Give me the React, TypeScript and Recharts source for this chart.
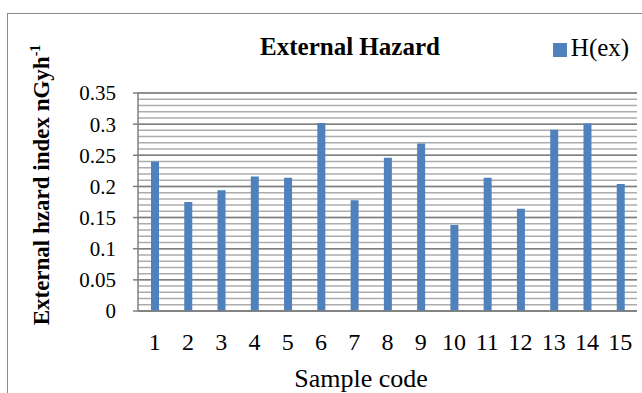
import React from "react"
import { BarChart, Bar, XAxis, YAxis, CartesianGrid, Legend } from "recharts"

// sample codes along the x axis
const sampleCodes = ["1", "2", "3", "4", "5", "6", "7", "8", "9", "10", "11", "12", "13", "14", "15"]
// H(ex) values
const hexValues = [0.24, 0.175, 0.194, 0.216, 0.214, 0.302, 0.178, 0.246, 0.269, 0.138, 0.214, 0.164, 0.291, 0.301, 0.204]
const majorTicks = [0, 0.05, 0.1, 0.15, 0.2, 0.25, 0.3, 0.35]
// minor gridlines every 0.01
const minorTicks = Array.from({ length: 36 }, (_, i) => i / 100)

const data = sampleCodes.map((code, i) => ({ code, hex: hexValues[i] }))

const FONT = "'Liberation Serif', 'Times New Roman', serif"

export default function App() {
  return (
    <div style={{ position: "absolute", left: 0, top: 0, width: 642, height: 393, overflow: "hidden", background: "#fff" }}>
      <div style={{ position: "absolute", left: 7, top: 13, width: 700, height: 500, border: "1px solid #8a8a8a" }} />
      <BarChart
        width={642}
        height={393}
        data={data}
        margin={{ top: 93, right: 5, bottom: 32, left: 0 }}
        style={{ fontFamily: FONT }}
      >
        <CartesianGrid vertical={false} horizontalValues={minorTicks} stroke="#acacac" strokeWidth={1.5} />
        <CartesianGrid vertical={false} stroke="#7f7f7f" strokeWidth={1.5} />
        <XAxis
          dataKey="code"
          height={50}
          tickLine={false}
          tickMargin={16}
          axisLine={{ stroke: "#7f7f7f", strokeWidth: 1.5 }}
          tick={{ fill: "#000", fontSize: 24, fontFamily: FONT }}
          interval={0}
        />
        <YAxis
          width={138}
          domain={[0, 0.35]}
          ticks={majorTicks}
          interval={0}
          tickSize={5}
          tickMargin={17}
          tickLine={{ stroke: "#7f7f7f", strokeWidth: 1.5 }}
          axisLine={{ stroke: "#7f7f7f", strokeWidth: 1.5 }}
          tick={{ fill: "#000", fontSize: 21, fontFamily: FONT }}
        />
        <Legend
          layout="horizontal"
          verticalAlign="middle"
          align="center"
          iconType="square"
          iconSize={14}
          formatter={(v) => <span style={{ color: "#000" }}>{v}</span>}
          wrapperStyle={{ left: 546, top: 34, width: 100, fontFamily: FONT, fontSize: 25, lineHeight: "28px" }}
        />
        <Bar dataKey="hex" name="H(ex)" fill="#4f81bd" barSize={8} isAnimationActive={false} />
        <text x={350} y={55} textAnchor="middle" fontFamily={FONT} fontSize={25} fontWeight="bold" fill="#000">
          External Hazard
        </text>
        <text x={361} y={387} textAnchor="middle" fontFamily={FONT} fontSize={26} fill="#000">
          Sample code
        </text>
        <text
          x={49}
          y={185}
          textAnchor="middle"
          transform="rotate(-90 49 185)"
          fontFamily={FONT}
          fontSize={23}
          fontWeight="bold"
          fill="#000"
        >
          External hzard index nGyh
          <tspan fontSize={14} dy={-9}>-1</tspan>
        </text>
      </BarChart>
    </div>
  )
}
